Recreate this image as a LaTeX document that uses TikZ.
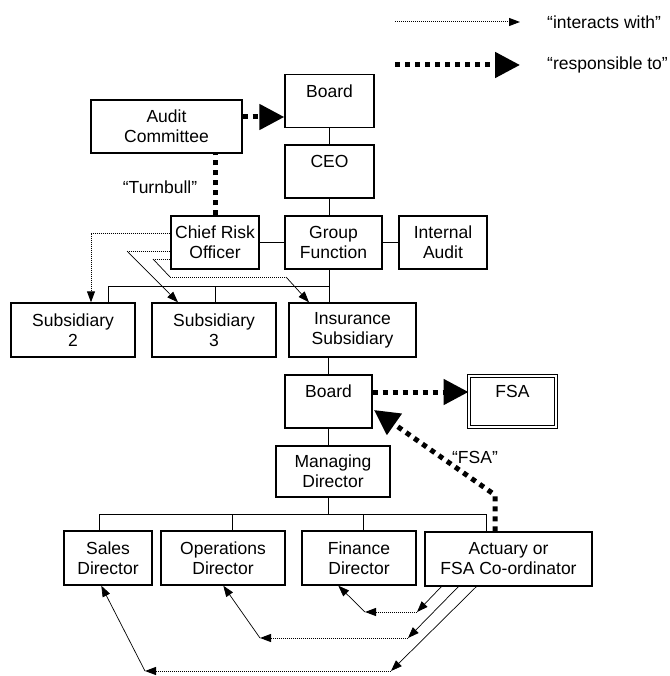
\documentclass[tikz,border=0pt]{standalone}
\usepackage{fontspec}
\setmainfont{Liberation Sans}
\usetikzlibrary{arrows.meta}

\begin{document}
\begin{tikzpicture}[x=1pt,y=-1pt,>={Triangle[length=11pt,width=8pt]},
  every node/.style={font=\fontsize{17.5}{20}\selectfont},
  box/.style={draw,line width=1.4pt,inner sep=0pt,align=center,minimum height=53pt},
  link/.style={line width=1pt},
  dot/.style={line width=1pt,densely dotted},
  thinl/.style={line width=0.7pt},
  respline/.style={line width=5pt,dash pattern=on 5pt off 5pt},
  resp/.style={respline,-{Triangle[length=25pt,width=25pt]}}]
  \useasboundingbox (0,0) rectangle (669,676);

  % legend
  \coordinate (l1a) at (395,22);
  \coordinate (l1b) at (520,22);
  \coordinate (l2a) at (395,65);
  \coordinate (l2b) at (520,65);
  \draw [dot,->] (l1a) -- (l1b);
  \draw [resp] (l2a) -- (l2b);
  \node [anchor=west,inner sep=0pt] (leg1) at (547,22) {“interacts with”};
  \node [anchor=west,inner sep=0pt] (leg2) at (547,65) {“responsible to”};

  % group level
  \node [box,minimum width=89pt] (board) at (329.5,101) {Board\\\phantom{B}};
  \node [box,minimum width=151pt] (audit) at (166.5,126.5) {Audit\\Committee};
  \node [box,minimum width=89pt] (ceo) at (329.5,171.5) {CEO\\\phantom{C}};
  \node [box,minimum width=88pt] (cro) at (215,242.5) {Chief Risk\\Officer};
  \node [box,minimum width=97pt] (group) at (333.5,242.5) {Group\\Function};
  \node [box,minimum width=88pt] (ia) at (443,242.5) {Internal\\Audit};
  \node [box,minimum width=124pt,minimum height=54pt] (sub2) at (73,330) {Subsidiary\\2};
  \node [box,minimum width=124pt,minimum height=54pt] (sub3) at (214,330) {Subsidiary\\3};
  \node [box,minimum width=127pt,minimum height=54pt] (ins) at (352.5,330) {Insurance\\Subsidiary};
  \node (turnbull) at (160,187) {“Turnbull”};

  \draw [link] (board) -- (ceo);
  \draw [link] (ceo.south) -- (ceo.south |- group.north);
  \draw [link] (cro) -- (group);
  \draw [link] (group) -- (ia);
  \coordinate (b1l) at (108,286);
  \coordinate (b1m) at (215,286);
  \coordinate (b1r) at (329.5,286);
  \draw [link] (ceo.south |- group.south) -- (ceo.south |- ins.north);
  \draw [link] (b1l |- sub2.north) -- (b1l) -- (b1r);
  \draw [link] (b1m) -- (b1m |- sub3.north);

  \coordinate (a117) at (0,117);
  \draw [resp] (audit.east |- a117) -- (board.west |- a117);
  \draw [respline] (cro.north) -- (cro.north |- audit.south);

  % risk officer to subsidiaries
  \coordinate (c1) at (91,233);
  \draw [dot,->] (cro.west |- c1) -- (c1) -- (c1 |- sub2.north);
  \coordinate (c2) at (127,251);
  \coordinate (c2e) at (178,0);
  \draw [dot] (cro.west |- c2) -- (c2);
  \draw [thinl,->] (c2) -- (c2e |- sub3.north);
  \coordinate (c3a) at (153,259);
  \coordinate (c3b) at (170,277);
  \coordinate (c3c) at (286,277);
  \coordinate (c3e) at (309,0);
  \draw [dot] (cro.west |- c3a) -- (c3a);
  \draw [thinl] (c3a) -- (c3b);
  \draw [dot] (c3b) -- (c3c);
  \draw [thinl,->] (c3c) -- (c3e |- ins.north);

  % insurance subsidiary
  \node [box,minimum width=87pt] (board2) at (328.5,401.5) {Board\\\phantom{B}};
  \node [box,line width=1pt,double,double distance=2pt,minimum width=87pt,minimum height=51pt] (fsa) at (512.5,401.5) {FSA\\\phantom{F}};
  \node [box,minimum width=114pt,minimum height=51pt] (md) at (333,471.5) {Managing\\Director};
  \node [box,minimum width=88pt,minimum height=54pt] (sales) at (108,558) {Sales\\Director};
  \node [box,minimum width=124pt,minimum height=54pt] (ops) at (223,558) {Operations\\Director};
  \node [box,minimum width=114pt,minimum height=54pt] (fin) at (359,558) {Finance\\Director};
  \node [box,minimum width=167pt,minimum height=54pt] (act) at (508.5,559) {Actuary or\\FSA Co-ordinator};
  \node (fsaq) at (475,457) {“FSA”};

  \draw [link] (ins.south -| board2.north) -- (board2.north);
  \draw [link] (board2.south) -- (board2.south |- md.north);
  \coordinate (b2a) at (99,514);
  \coordinate (b2b) at (232,514);
  \coordinate (b2c) at (363,514);
  \coordinate (b2d) at (486,514);
  \draw [link] (board2.south |- md.south) -- (board2.south |- b2a);
  \draw [link] (b2a |- sales.north) -- (b2a) -- (b2d) -- (b2d |- act.north);
  \draw [link] (b2b) -- (b2b |- ops.north);
  \draw [link] (b2c) -- (b2c |- fin.north);

  \coordinate (r392) at (0,392);
  \draw [resp] (board2.east |- r392) -- (fsa.west |- r392);
  \coordinate (k) at (495,495);
  \coordinate (btip) at (374,410);
  \draw [resp] (act.north -| k) -- (k) -- (btip);

  % actuary to the other directors
  \coordinate (f1) at (417,612);
  \coordinate (f2) at (365,612);
  \draw [thinl,->] ([xshift=17pt]act.south west) -- (f1);
  \draw [dot,->] (f1) -- (f2);
  \draw [thinl,->] (f2) -- ([xshift=37pt]fin.south west);
  \coordinate (o1) at (408,638);
  \coordinate (o2) at (260,638);
  \draw [thinl,->] ([xshift=34pt]act.south west) -- (o1);
  \draw [dot,->] (o1) -- (o2);
  \draw [thinl,->] (o2) -- ([xshift=63pt]ops.south west);
  \coordinate (s1) at (391,671);
  \coordinate (s2) at (145,671);
  \draw [thinl,->] ([xshift=52pt]act.south west) -- (s1);
  \draw [dot,->] (s1) -- (s2);
  \draw [thinl,->] (s2) -- ([xshift=38pt]sales.south west);
\end{tikzpicture}
\end{document}
